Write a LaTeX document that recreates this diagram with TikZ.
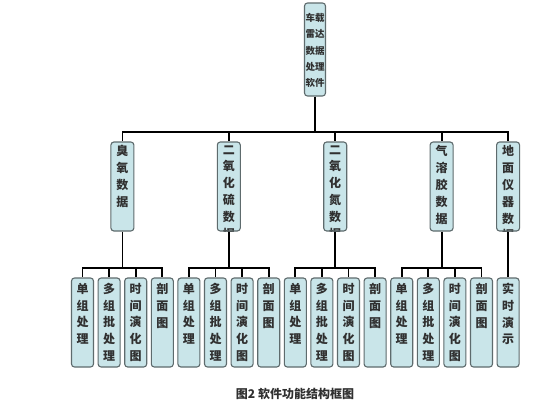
\documentclass[tikz,border=0pt]{standalone}
\usepackage{fontspec}
\setmainfont{Noto Sans CJK SC}
\definecolor{boxfill}{HTML}{C9E5E9}
\definecolor{boxline}{HTML}{5E6B6D}
\definecolor{textcol}{HTML}{303030}
\tikzset{
  conn/.style={line width=1.8pt, black},
  cbox/.style={draw=boxline, line width=1.1pt, fill=boxfill, rounded corners=3pt, inner sep=0pt},
  intext/.style={anchor=north, inner sep=0pt, minimum width=0pt, minimum height=0pt, align=center, text=textcol},
  vlabel/.style={path picture={\node[intext, font=\fontsize{12}{16.8}\selectfont\bfseries]
      at ([yshift=#1]path picture bounding box.north) {\vtext};}},
  toplabel/.style={path picture={\node[intext, font=\fontsize{9.5}{16.4}\selectfont\bfseries]
      at ([yshift=-9.5pt]path picture bounding box.north) {\vtext};}},
  topbox/.style={cbox, minimum width=21pt, minimum height=93pt, toplabel},
  midbox/.style={cbox, minimum width=23pt, minimum height=89pt, vlabel=-3pt},
  leafbox/.style={cbox, minimum width=22pt, minimum height=89pt, vlabel=-4.5pt},
  caption/.style={text=textcol, font=\fontsize{12}{14}\selectfont\bfseries, inner sep=0pt},
}
\newcommand{\vtext}{}
\newcommand{\boxtext}[1]{\def\vtext{#1}}
\begin{document}
\begin{tikzpicture}[x=1pt, y=-1pt]
\useasboundingbox[fill=white] (0,0) rectangle (560,410);

% root
\boxtext{车载\\雷达\\数据\\处理\\软件}
\node[topbox] (root) at (315,49.5) {};
\coordinate (bus1) at (315,132);

% level 2
\boxtext{臭\\氧\\数\\据}
\node[midbox] (o3) at (122.4,186.5) {};
\boxtext{二\\氧\\化\\硫\\数\\据}
\node[midbox] (so2) at (228.8,186.5) {};
\boxtext{二\\氧\\化\\氮\\数\\据}
\node[midbox] (no2) at (335.2,186.5) {};
\boxtext{气\\溶\\胶\\数\\据}
\node[midbox] (aer) at (441.6,186.5) {};
\boxtext{地\\面\\仪\\器\\数\\据}
\node[midbox] (gnd) at (508.1,186.5) {};

\coordinate (b-o3) at (122.4,268);
\coordinate (b-so2) at (228.8,268);
\coordinate (b-no2) at (335.2,268);
\coordinate (b-aer) at (441.6,268);

% level 3
\boxtext{单\\组\\处\\理}
\node[leafbox] (o3a) at (82.5,322.5) {};
\node[leafbox] (so2a) at (188.9,322.5) {};
\node[leafbox] (no2a) at (295.3,322.5) {};
\node[leafbox] (aera) at (401.7,322.5) {};
\boxtext{多\\组\\批\\处\\理}
\node[leafbox] (o3b) at (109.1,322.5) {};
\node[leafbox] (so2b) at (215.5,322.5) {};
\node[leafbox] (no2b) at (321.9,322.5) {};
\node[leafbox] (aerb) at (428.3,322.5) {};
\boxtext{时\\间\\演\\化\\图}
\node[leafbox] (o3c) at (135.7,322.5) {};
\node[leafbox] (so2c) at (242.1,322.5) {};
\node[leafbox] (no2c) at (348.5,322.5) {};
\node[leafbox] (aerc) at (454.9,322.5) {};
\boxtext{剖\\面\\图}
\node[leafbox] (o3d) at (162.3,322.5) {};
\node[leafbox] (so2d) at (268.7,322.5) {};
\node[leafbox] (no2d) at (375.1,322.5) {};
\node[leafbox] (aerd) at (481.5,322.5) {};
\boxtext{实\\时\\演\\示}
\node[leafbox] (gnda) at (508.1,322.5) {};

% connectors: root to level 2
\draw[conn] (root.south) -- (bus1);
\foreach \n in {o3,so2,no2,aer,gnd} {\draw[conn] (bus1) -| (\n.north);}

% level 2 to level 3
\foreach \n in {o3,so2,no2,aer} {
  \draw[conn] (\n.south) -- (b-\n);
  \foreach \s in {a,b,c,d} {\draw[conn] (b-\n) -| (\n\s.north);}
}
\draw[conn] (gnd.south) -- (gnda.north);

% caption
\node[caption] (cap) at (295,394) {图2 软件功能结构框图};
\end{tikzpicture}
\end{document}
